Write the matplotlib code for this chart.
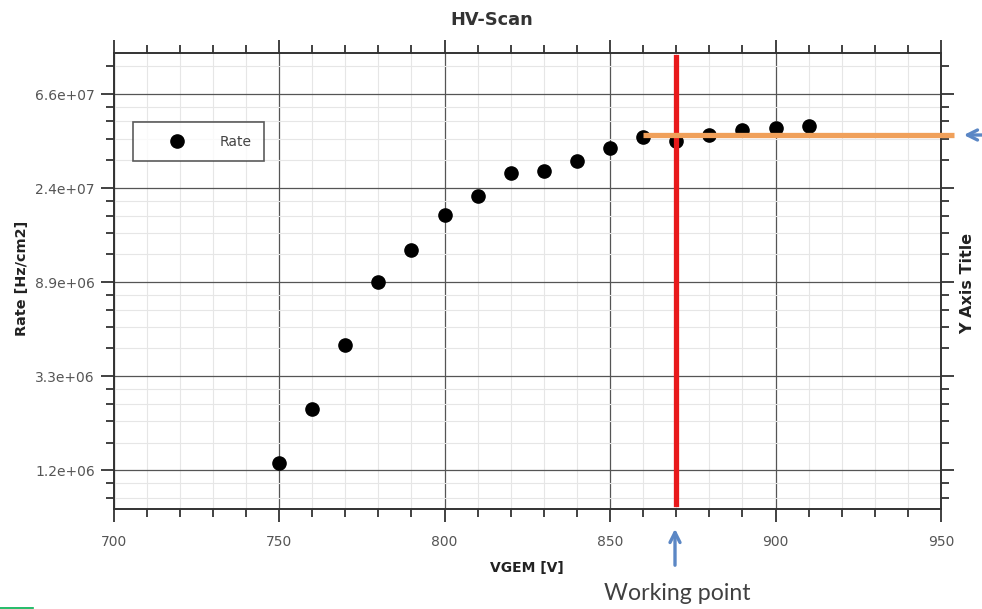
import matplotlib
matplotlib.use("Agg")
import matplotlib.pyplot as plt
import numpy as np
from matplotlib.ticker import FixedLocator, NullFormatter

# data
vgem = [750, 760, 770, 780, 790, 800, 810, 820, 830, 840, 850, 860, 870, 880, 890, 900, 910]
rate = [1.30e6, 2.32e6, 4.56e6, 8.92e6, 1.245e7, 1.81e7, 2.21e7, 2.85e7, 2.89e7,
        3.21e7, 3.69e7, 4.18e7, 3.98e7, 4.24e7, 4.50e7, 4.56e7, 4.66e7]
working_point = 870
plateau_level = 4.24e7
plateau_range = [860, 954]
y_exponents = [14, 15, 16, 17, 18]

W, H = 982, 609
fig = plt.figure(figsize=(W / 100, H / 100), dpi=100)
fig.subplots_adjust(left=113.5 / W, right=941 / W, bottom=1 - 509 / H, top=1 - 53 / H)
ax = fig.add_subplot(111)

ax.set_yscale("log", base=np.e)
ax.set_xlim(700, 950)
ax.set_ylim(np.exp(13.589), np.exp(18.436))

major_y = [np.exp(e) for e in y_exponents]
minor_y = []
for e in range(13, 19):
    lo, hi = np.exp(e), np.exp(e + 1)
    minor_y += [lo + k * (hi - lo) / 5 for k in range(1, 5)]
ax.yaxis.set_major_locator(FixedLocator(major_y))
ax.yaxis.set_minor_locator(FixedLocator(minor_y))
ax.set_yticklabels(["%.1e" % v for v in major_y])
ax.yaxis.set_minor_formatter(NullFormatter())
ax.set_xticks([700, 750, 800, 850, 900, 950])
ax.set_xticks(np.arange(700, 951, 10), minor=True)

ax.grid(which="major", color="#555555", lw=0.9)
ax.grid(which="minor", color="#e6e6e6", lw=0.8)
ax.set_axisbelow(True)

for s in ax.spines.values():
    s.set_color("#333333")
    s.set_linewidth(1.4)
ax.tick_params(which="both", direction="out", top=True, right=True, colors="#333333",
               labelcolor="#555555", labelsize=10, width=1.3)
ax.tick_params(which="major", length=9.5)
ax.tick_params(which="minor", length=5.8)
ax.tick_params(axis="y", which="major", pad=4)
ax.tick_params(axis="x", which="major", pad=9)

ax.plot(vgem, rate, "o", color="black", ms=9.5, label="Rate", zorder=3)

ax.axvline(working_point, ymin=0.011, ymax=0.991, color="#e8191b", lw=3.8, zorder=4)
ax.plot(plateau_range, [plateau_level, plateau_level], color="#f0a05a", lw=3.8,
        zorder=5, clip_on=False, solid_capstyle="butt")

leg = ax.legend(loc="upper left", bbox_to_anchor=(133 / W, 1 - 122 / H),
                bbox_transform=fig.transFigure, frameon=True, fancybox=False,
                borderpad=0.9, handlelength=4.6, handletextpad=0.75,
                prop={"size": 10}, borderaxespad=0)
leg.get_frame().set_edgecolor("#333333")
leg.get_frame().set_linewidth(1.2)
for t in leg.get_texts():
    t.set_color("#444444")

fig.text(492 / W, 1 - 20 / H, "HV-Scan", ha="center", va="center",
         fontsize=12.8, fontweight="bold", color="#333333")
fig.text(527 / W, 1 - 568 / H, "VGEM [V]", ha="center", va="center",
         fontsize=10, fontweight="bold", color="#222222")
fig.text(22 / W, 1 - 278 / H, "Rate [Hz/cm2]", ha="center", va="center",
         rotation=90, fontsize=10.4, fontweight="bold", color="#222222")
fig.text(968 / W, 1 - 283 / H, "Y Axis Title", ha="center", va="center",
         rotation=90, fontsize=11.5, fontweight="bold", color="#222222")

fig.text(677 / W, 1 - 594 / H, "Working point", ha="center", va="center",
         fontsize=16.7, family="Lato", color="#404040")
arrow = dict(arrowstyle="->", color="#5b87c5", lw=2.4, mutation_scale=18)
ax.annotate("", xy=(675 / W, 1 - 526 / H), xytext=(675 / W, 1 - 568 / H),
            xycoords="figure fraction", arrowprops=arrow)
ax.annotate("", xy=(961 / W, 1 - 135 / H), xytext=(995 / W, 1 - 135 / H),
            xycoords="figure fraction", arrowprops=arrow)

fig.add_artist(plt.Line2D([0, 33 / W], [0.8 / H, 0.8 / H], color="#00b050", lw=1.2,
                          transform=fig.transFigure))

fig.savefig("out.png", dpi=100)
